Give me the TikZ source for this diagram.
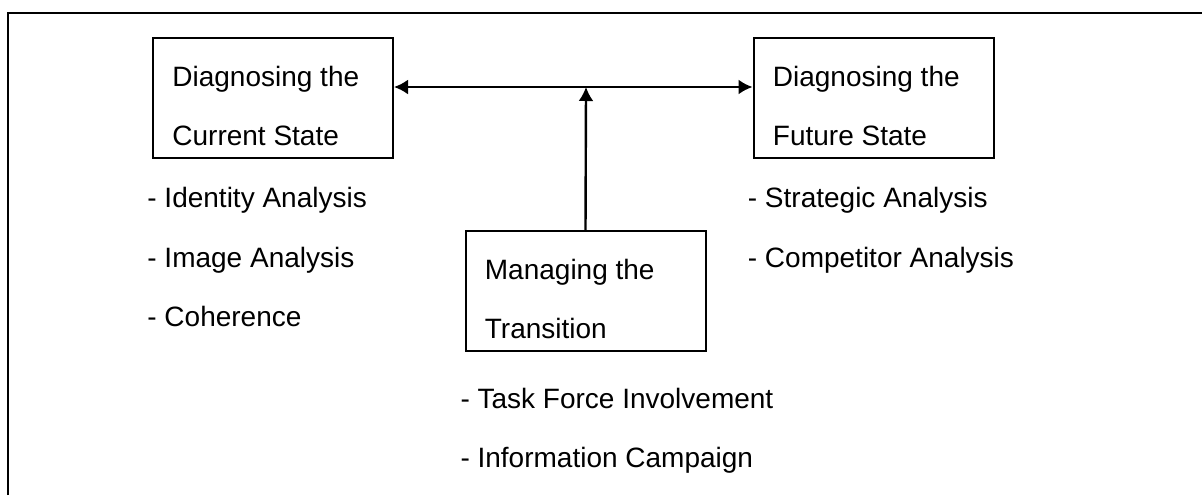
\documentclass[tikz,border=0pt]{standalone}
\usepackage{fontspec}
\setmainfont{Liberation Sans}
\usetikzlibrary{positioning,arrows.meta}

\begin{document}
\begin{tikzpicture}[
    x=1pt, y=1pt,
    >={Latex[length=7pt,width=7.5pt]},
    stage/.style    = {rectangle, draw=black, line width=1pt,
                       minimum width=120pt, minimum height=60pt, inner sep=0pt},
    stagetxt/.style = {align=left, inner sep=0pt,
                       font=\fontsize{14}{29.7}\selectfont},
    items/.style    = {align=left, inner sep=0pt,
                       font=\fontsize{14}{29.7}\selectfont},
    arr/.style      = {line width=1.2pt},
]
  \useasboundingbox (0,0) rectangle (601,247.5);

  % open frame: left and top edges only
  \draw[line width=1pt] (4.15,0) -- (4.15,240.85) -- (601,240.85);

  % the three stages
  \node[stage] (cur)   at (136.5,198.5) {};
  \node[stage] (fut)   at (436.75,198.5) {};
  \node[stage] (trans) at (292.75,102) {};

  \node[stagetxt, below right=14.45pt and 10pt of cur.north west]   (curtxt)   {Diagnosing the\\Current State};
  \node[stagetxt, below right=14.45pt and 10pt of fut.north west]   (futtxt)   {Diagnosing the\\Future State};
  \node[stagetxt, below right=14.45pt and 10pt of trans.north west] (transtxt) {Managing the\\Transition};

  % activities under each stage
  \node[items, below right=14.15pt and -2.5pt of cur.south west] (curlist)
       {- Identity Analysis\\- Image Analysis\\- Coherence};
  \node[items, below right=14.15pt and -2.5pt of fut.south west] (futlist)
       {- Strategic Analysis\\- Competitor Analysis};
  \node[items, below right=17.65pt and -2.2pt of trans.south west] (translist)
       {- Task Force Involvement\\- Information Campaign};

  % connectors
  \coordinate (hub) at (293,204);
  \draw[arr, <->] (cur.east |- hub) -- (fut.west |- hub);
  \draw[arr, ->] (trans.north) -- (hub);
\end{tikzpicture}
\end{document}
